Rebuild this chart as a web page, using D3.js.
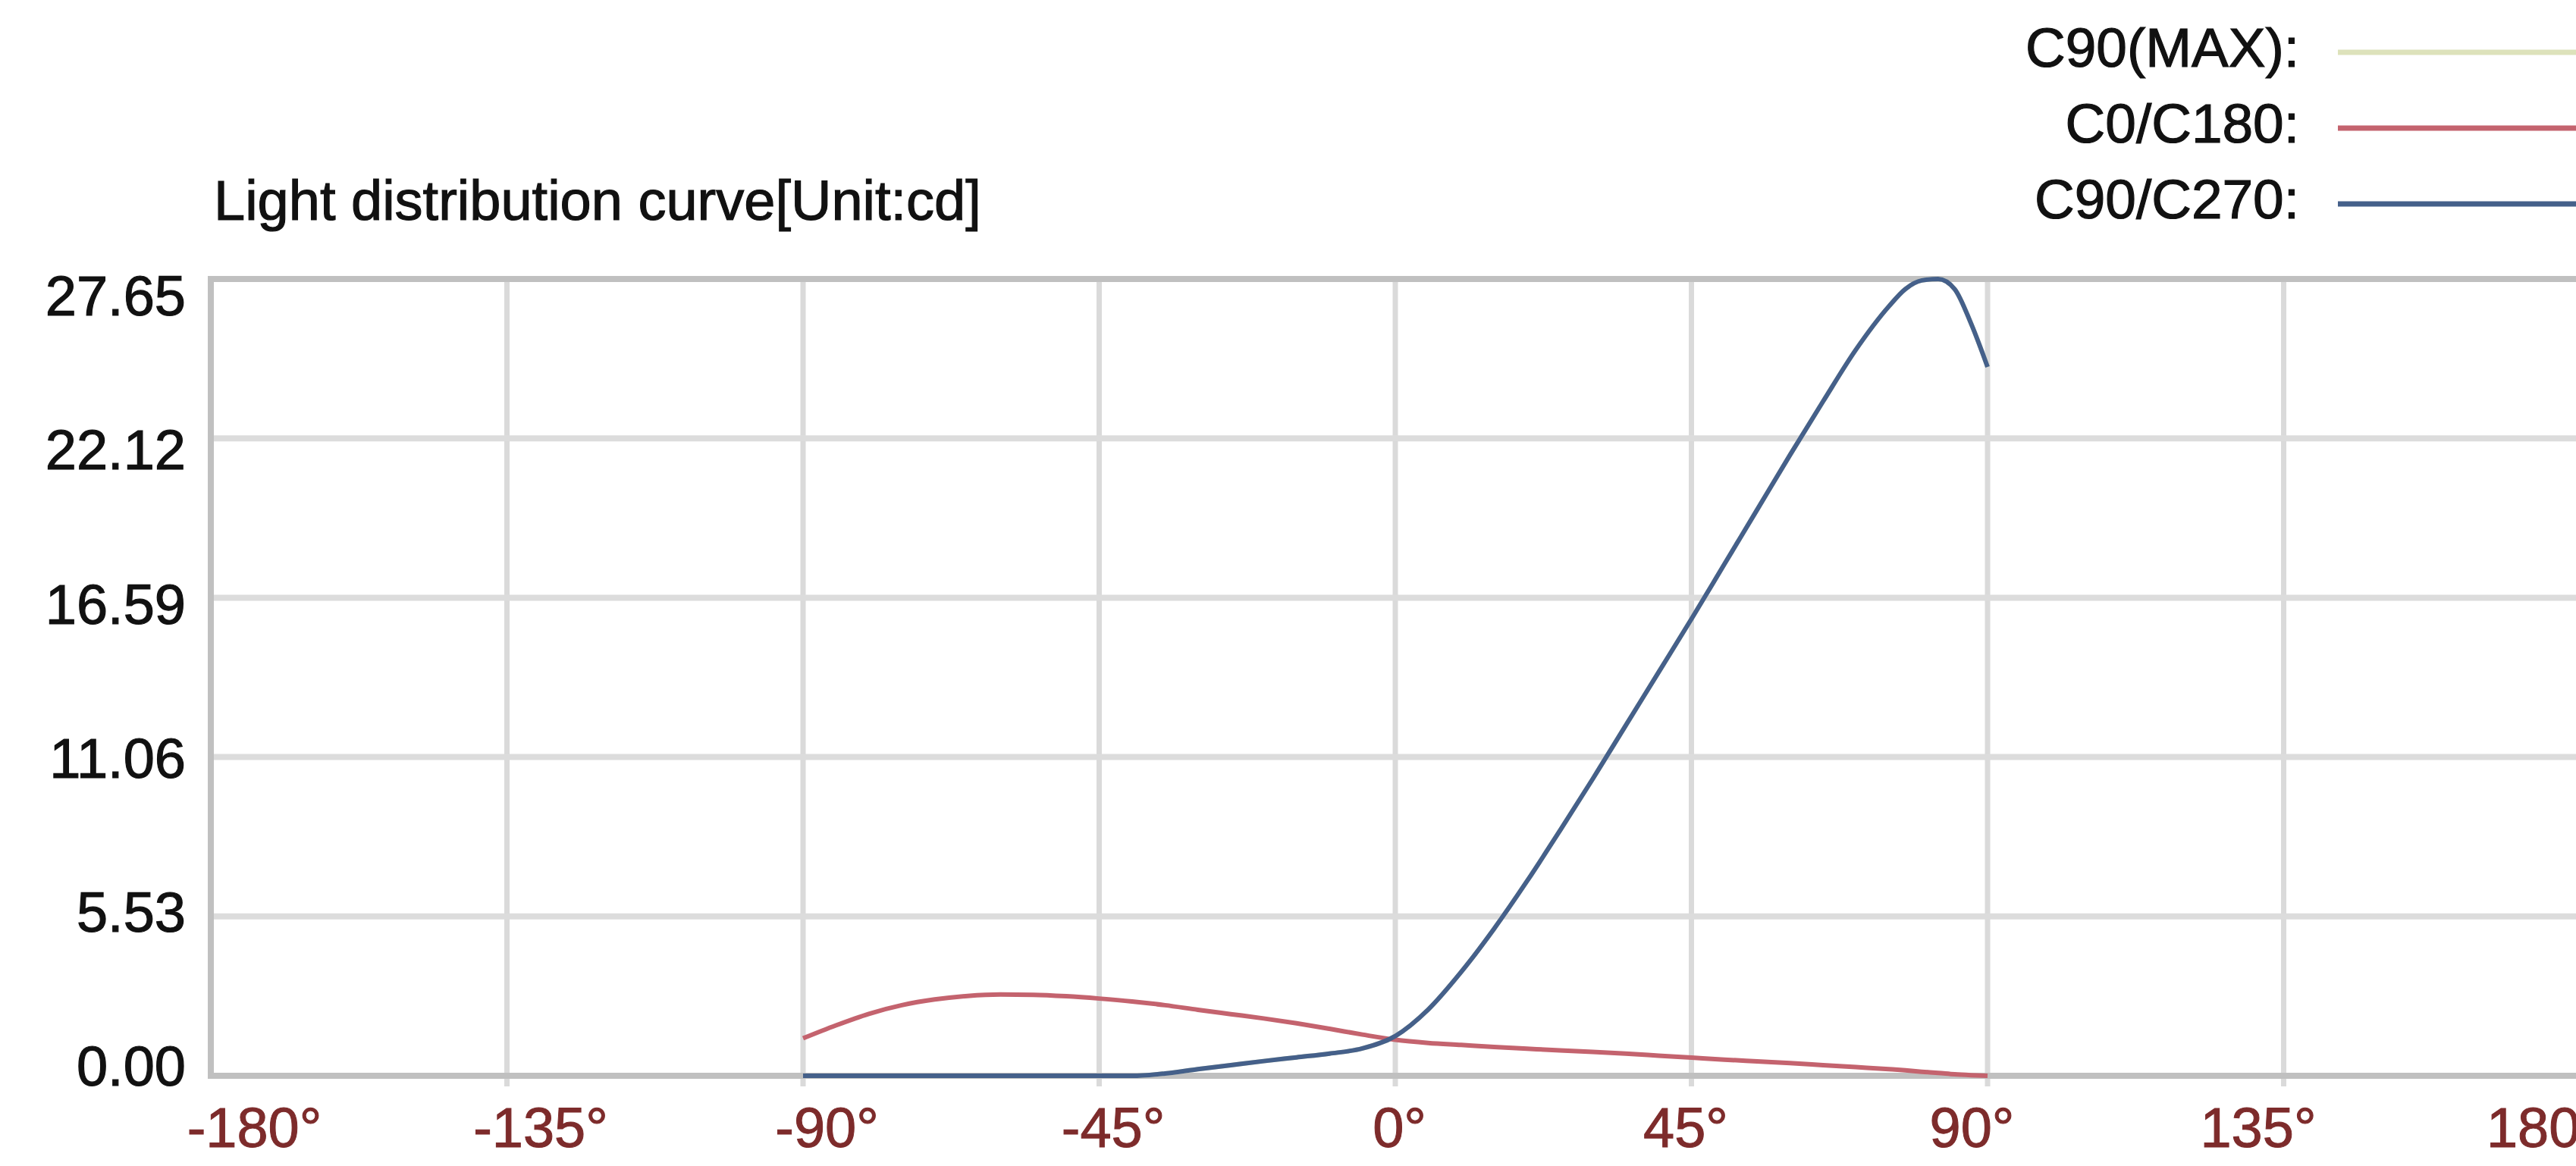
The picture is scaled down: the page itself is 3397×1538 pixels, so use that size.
<!DOCTYPE html>
<html>
<head>
<meta charset="utf-8">
<script src="https://cdn.jsdelivr.net/npm/d3@7"></script>
<style>
  body { margin: 0; background: #fff; }
  svg text { font-family: "Liberation Sans", Arial, sans-serif; }
</style>
</head>
<body>
<svg id="chart"></svg>
<script>
// Canvas settings
const WIDTH = 3397;
const HEIGHT = 1538;

// Angles (deg) the curves are sampled at
const ANGLES = [-90, -85, -80, -75, -70, -65, -60, -55, -50, -45, -40, -35, -30, -25, -20,
    -15, -10, -5, 0, 5, 10, 15, 20, 25, 30, 35, 40, 45, 50, 55, 60, 65, 70, 75,
    77.5, 80, 82.5, 85, 87.5, 90];

// C0/C180 plane [cd]
const C0_C180 = [1.3, 1.75, 2.15, 2.45, 2.65, 2.77, 2.82, 2.81, 2.76, 2.68, 2.58, 2.45, 2.29, 2.14, 1.99,
    1.82, 1.63, 1.43, 1.25, 1.14, 1.07, 1.0, 0.94, 0.88, 0.83, 0.77, 0.7, 0.63, 0.56, 0.5, 0.44, 0.37, 0.3, 0.23,
    0.19, 0.14, 0.1, 0.05, 0.02, 0];

// C90/C270 plane [cd]
const C90_C270 = [0, 0, 0, 0, 0, 0, 0, 0, 0, 0, 0, 0.08, 0.23, 0.37, 0.51,
    0.64, 0.77, 0.95, 1.38, 2.3, 3.6, 5.1, 6.75, 8.5, 10.3, 12.15, 14.0, 15.85, 17.75, 19.65, 21.55, 23.4, 25.2, 26.7,
    27.3, 27.6, 27.65, 27.3, 26.1, 24.6];

// C90(MAX) is the same plane as C90, drawn underneath it
const C90_MAX = C90_C270;

// Axis ticks
const X_TICKS = [-180, -135, -90, -45, 0, 45, 90, 135, 180];
const Y_TICKS = [0, 5.53, 11.06, 16.59, 22.12, 27.65];

// Legend
const SERIES_NAMES = ['C90(MAX):', 'C0/C180:', 'C90/C270:'];
const SERIES_COLORS = ['#dde2bb', '#c4636e', '#45608a'];
const SERIES_VALUES = [C90_MAX, C0_C180, C90_C270];

const TITLE = 'Light distribution curve[Unit:cd]';

const FONT_SIZE = 74;

const svg = d3.select('svg#chart').attr('width', WIDTH).attr('height', HEIGHT);

// Plot scales
const x = d3.scaleLinear().domain([-180, 180]).range([278, 3402]);
const y = d3.scaleLinear().domain([0, 27.65]).range([1419, 368]);

// Label scales - the tick labels sit on their own spacing in this chart
const xLabel = d3.scaleLinear().domain([-180, 180]).range([335, 3355]);
const yLabel = d3.scaleLinear().domain([0, 27.65]).range([1408, 392]);

// Grid
const grid = svg.append('g');

grid.selectAll('line.vgrid')
    .data(X_TICKS.slice(1))
    .enter().append('line')
    .attr('x1', d => x(d)).attr('x2', d => x(d))
    .attr('y1', y(27.65)).attr('y2', y(0) + 14)
    .attr('stroke', '#dadada')
    .attr('stroke-width', 7);

grid.selectAll('line.hgrid')
    .data(Y_TICKS.slice(1, -1))
    .enter().append('line')
    .attr('x1', x(-180)).attr('x2', WIDTH)
    .attr('y1', d => y(d)).attr('y2', d => y(d))
    .attr('stroke', '#dcdcdc')
    .attr('stroke-width', 8);

// Frame: top, left and bottom lines are darker
[[x(-180), y(27.65), WIDTH, y(27.65)],
 [x(-180), y(27.65) - 4, x(-180), y(0) + 4],
 [x(-180), y(0), WIDTH, y(0)]].forEach(l => {
    grid.append('line')
        .attr('x1', l[0]).attr('y1', l[1]).attr('x2', l[2]).attr('y2', l[3])
        .attr('stroke', '#c0c0c0')
        .attr('stroke-width', 8);
});

// Curves
const line = d3.line()
    .x((d, i) => x(ANGLES[i]))
    .y(d => y(d))
    .curve(d3.curveMonotoneX);

svg.append('g').selectAll('path')
    .data(SERIES_VALUES)
    .enter().append('path')
    .attr('d', d => line(d))
    .attr('fill', 'none')
    .attr('stroke', (d, i) => SERIES_COLORS[i])
    .attr('stroke-width', 6)
    .attr('stroke-linejoin', 'round');

// Y axis labels
const yAxis = svg.append('g')
    .attr('transform', 'translate(245,0)')
    .call(d3.axisLeft(yLabel).tickValues(Y_TICKS).tickSize(0).tickPadding(0)
        .tickFormat(d => d.toFixed(2)));
yAxis.select('.domain').remove();
yAxis.selectAll('text')
    .attr('font-size', FONT_SIZE)
    .attr('font-family', '"Liberation Sans", Arial, sans-serif')
    .attr('fill', '#111')
    .attr('stroke', '#111')
    .attr('stroke-width', 1.2);

// X axis labels
const xAxis = svg.append('g')
    .attr('transform', 'translate(0,1460)')
    .call(d3.axisBottom(xLabel).tickValues(X_TICKS).tickSize(0).tickPadding(0)
        .tickFormat(d => String(d) + '°'));
xAxis.select('.domain').remove();
xAxis.selectAll('text')
    .attr('font-size', FONT_SIZE)
    .attr('font-family', '"Liberation Sans", Arial, sans-serif')
    .attr('fill', '#7d2b2b')
    .attr('stroke', '#7d2b2b')
    .attr('stroke-width', 1);

// Title
svg.append('text')
    .attr('x', 282)
    .attr('y', 290)
    .attr('font-size', FONT_SIZE)
    .attr('fill', '#111')
    .attr('stroke', '#111')
    .attr('stroke-width', 1.2)
    .text(TITLE);

// Legend
const legendRow = d3.scalePoint().domain(SERIES_NAMES).range([62, 262]);
const legend = svg.append('g');

legend.selectAll('text')
    .data(SERIES_NAMES)
    .enter().append('text')
    .attr('x', 3032)
    .attr('y', d => legendRow(d))
    .attr('dy', '0.36em')
    .attr('text-anchor', 'end')
    .attr('font-size', 73)
    .attr('fill', '#111')
    .attr('stroke', '#111')
    .attr('stroke-width', 1.2)
    .text(d => d);

legend.selectAll('line')
    .data(SERIES_NAMES)
    .enter().append('line')
    .attr('x1', 3083).attr('x2', WIDTH + 20)
    .attr('y1', d => legendRow(d) + 7).attr('y2', d => legendRow(d) + 7)
    .attr('stroke', (d, i) => SERIES_COLORS[i])
    .attr('stroke-width', 7);
</script>
</body>
</html>
